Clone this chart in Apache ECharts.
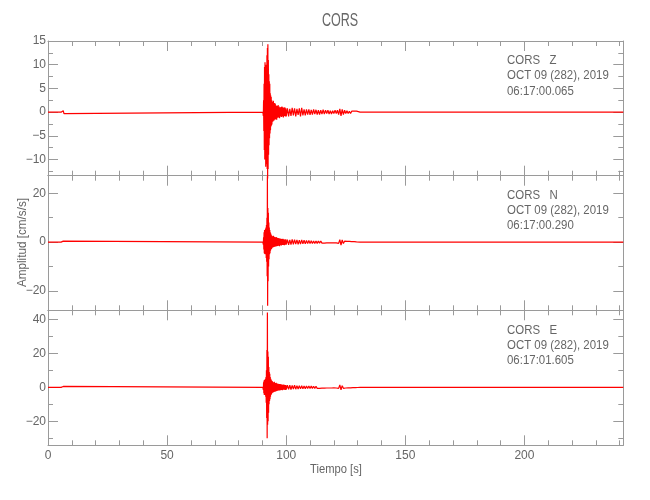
<!DOCTYPE html>
<html><head><meta charset="utf-8">
<script src="https://cdn.jsdelivr.net/npm/echarts@6/dist/echarts.min.js"></script>
<style>html,body{margin:0;padding:0;background:#fff}#c{width:650px;height:500px}</style>
</head><body><div id="c"></div>
<script>
// Sample times (s)
const T = [0, 5.5, 5.8, 6.1, 6.4, 6.7, 7.0, 90.2,
  90.3,90.4,90.5,90.6,90.7,90.8,90.9,91.0,91.1,91.2,91.3,91.4,91.5,91.6,91.7,91.8,91.9,92.0,92.1,92.2,92.3,92.4,92.5,92.6,92.7,92.8,92.9,93.0,93.1,93.2,93.3,93.4,93.5,93.6,93.7,93.8,93.9,94.0,
  94.2,94.4,94.6,94.8,95.0,95.2,95.4,95.6,95.8,96.0,96.2,96.4,96.6,96.8,97.0,97.2,97.4,97.6,97.8,98.0,98.2,98.4,98.6,98.8,99.0,99.2,99.4,99.6,99.8,100.0,
  100.5,101,101.5,102,102.5,103,103.5,104,104.5,105,105.5,106,106.5,107,107.5,108,108.5,109,109.5,110,
  110.5,111,111.5,112,112.5,113,113.5,114,114.5,115,115.5,116,116.5,117,117.5,118,118.5,119,119.5,120,
  120.5,121,121.5,122,122.5,123,123.5,124,124.5,125,125.5,126,126.5,127,127.5,128,128.5,129,129.5,130,
  131, 174.6, 175, 175.3, 175.6, 187.3, 187.6, 187.9, 188.2, 222.8, 223, 223.2, 223.4, 241.5];

// Z component (cm/s/s)
const Z = [0,0,0.3,-0.3,0.3,-0.3,0,0,
  0.2,-0.8,2.5,-4,6,-8,9.5,-10,10.5,-9, 8,-11.5,10,-11,9,-10.5,12,-12,13.5,-14, 14.3,-12,11,-9,8,-7,6.5,-5.5,6,-4.5, 4,-3.8,3.5,-3,3.2,-2.8,2.5,-2.6,
  2.2,-2,2.4,-1.8,1.9,-1.6,1.8,-1.5,1.4,-1.6, 1.3,-1.2,1.5,-1.1,1.2,-1.3,1.0,-0.9,1.1,-1.0, 1.2,-0.9,1.0,-1.1,0.9,-0.8,1.0,-0.9,0.8,-0.9,
  0.8,-0.9,0.7,-0.8,0.9,-0.7,0.8,-0.9,0.7,-0.6, 0.8,-0.9,0.9,-0.7,0.6,-0.7,0.6,-0.5,0.6,-0.6,
  0.5,-0.5,0.6,-0.4,0.5,-0.5,0.4,-0.5,0.4,-0.4, 0.5,-0.4,0.4,-0.3,0.4,-0.4,0.3,-0.4,0.3,-0.3,
  0.4,-0.3,0.4,-0.5,0.7,-0.8,0.6,-0.5,0.4,-0.3, 0.3,-0.3,0.2,-0.3,0.2,-0.2,0.2,-0.2,0.2,-0.1,
  0,0,0.4,-0.4,0,0,0.3,-0.3,0,0,0.2,-0.2,0,0];

// N component
const N = [0,0,0.5,-0.5,0.4,-0.4,0,0,
  0.3,-1,2,-3,4,-4.5,5,-4.8,4.5,-5, 5.5,-5,6,-6.5,7,-8,10,-14,27,-26, 14,-16,12,-10,8,-7,6,-5,5,-4.5, 4,-3.5,3.5,-3,3,-2.8,2.6,-2.5,
  2.4,-2.2,2.6,-2,2.2,-1.9,2.0,-1.8,2.1,-1.7, 1.8,-1.6,1.7,-1.5,1.6,-1.7,1.5,-1.3,1.4,-1.4, 1.3,-1.2,1.4,-1.1,1.2,-1.3,1.1,-1.0,1.2,-1.0,
  1.0,-1.1,0.9,-1.0,1.1,-0.9,1.0,-0.8,0.9,-0.9, 0.8,-0.8,0.9,-0.7,0.8,-0.7,0.7,-0.6,0.7,-0.6,
  0.6,-0.6,0.5,-0.6,0.5,-0.5,0.5,-0.4,0.5,-0.4, 0.4,-0.4,0.4,-0.3,0.4,-0.3,0.3,-0.3,0.3,-0.3,
  0.3,-0.3,0.4,-0.5,1.0,-1.2,0.9,-0.6,0.4,-0.3, 0.3,-0.2,0.3,-0.2,0.2,-0.2,0.2,-0.2,0.1,-0.1,
  0,0,0,0,0,0,0,0,0,0,0,0,0,0];

// E component
const E = [0,0,0.5,-0.5,0.5,-0.4,0,0,
  0.5,-1.5,3,-3.5,4,-4.5,4.5,-4,3.5,-4.5, 5,-5.5,6,-9,10,-18,22,-30,44,-22, 21,-20,18,-15,12,-10,9,-8,8,-7, 6,-5.5,5,-4.5,4.5,-4,3.8,-3.5,
  3.5,-3.2,3.0,-2.8,3.2,-2.6,2.5,-2.4,2.6,-2.2, 2.2,-2.0,2.1,-1.9,2.0,-1.8,1.9,-1.7,1.8,-1.6, 1.6,-1.7,1.5,-1.4,1.6,-1.4,1.3,-1.5,1.4,-1.3,
  1.3,-1.2,1.2,-1.3,1.1,-1.0,1.2,-1.1,1.0,-1.0, 1.0,-0.9,0.9,-0.9,0.8,-0.8,0.8,-0.7,0.8,-0.7,
  0.7,-0.6,0.6,-0.7,0.6,-0.6,0.5,-0.6,0.5,-0.5, 0.5,-0.5,0.4,-0.4,0.5,-0.4,0.4,-0.4,0.4,-0.3,
  0.4,-0.4,0.4,-0.6,1.4,-1.5,1.0,-0.6,0.4,-0.4, 0.3,-0.3,0.3,-0.3,0.3,-0.2,0.2,-0.2,0.2,-0.1,
  0,0,0,0,0,0,0,0,0,0,0,0,0,0];

const X_MAJOR = [0,50,100,150,200];
const X_MINOR = [10,20,30,40,60,70,80,90,110,120,130,140,160,170,180,190,210,220,230,240];
const X_RANGE = [0, 241.5];
const Y_MAJOR = [[-10,-5,0,5,10,15],[-20,0,20],[-20,0,20,40]];
const Y_MINOR = [[-12.5,-7.5,-2.5,2.5,7.5,12.5],[-10,10],[-30,-10,10,30]];
const Y_RANGE = [[-13.4,15],[-27.9,27.2],[-34.1,45.3]];
const STATION = 'CORS';
const COMPONENTS = ['Z','N','E'];
const DATE_LINE = 'OCT 09 (282), 2019';
const START_TIMES = ['06:17:00.065','06:17:00.290','06:17:01.605'];
const TRACES = [Z, N, E];

const FONT = "'Liberation Sans',sans-serif";
const AX = '#9a9a9a';
const TXT = '#666666';
const GRID_TOP = [41, 175.7, 310.3];
const GRID_H = [134.7, 134.6, 135];

const fmt = v => String(v).replace('-', '\u2212');

const grids = [], xAxes = [], yAxes = [], series = [], graphics = [];
for (let g = 0; g < 3; g++) {
  grids.push({left: 48, width: 575.3, top: GRID_TOP[g], height: GRID_H[g]});
  ['bottom','top'].forEach(pos => {
    [true,false].forEach(major => {
      xAxes.push({
        type: 'value', gridIndex: g, position: pos, min: X_RANGE[0], max: X_RANGE[1],
        axisLine: {show: major, onZero: false, lineStyle: {color: AX, width: 1}},
        splitLine: {show: false},
        axisTick: {show: true, inside: true, length: major ? 10 : 5,
          customValues: major ? X_MAJOR : X_MINOR, lineStyle: {color: AX, width: 1}},
        axisLabel: {show: major && pos === 'bottom' && g === 2,
          customValues: major ? X_MAJOR : X_MINOR, margin: 4,
          color: TXT, fontFamily: FONT, fontSize: 12, formatter: fmt}
      });
    });
  });
  ['left','right'].forEach(pos => {
    [true,false].forEach(major => {
      yAxes.push({
        type: 'value', gridIndex: g, position: pos, min: Y_RANGE[g][0], max: Y_RANGE[g][1],
        axisLine: {show: major, onZero: false, lineStyle: {color: AX, width: 1}},
        splitLine: {show: false},
        axisTick: {show: true, inside: true, length: major ? 10 : 5,
          customValues: major ? Y_MAJOR[g] : Y_MINOR[g], lineStyle: {color: AX, width: 1}},
        axisLabel: {show: major && pos === 'left',
          customValues: major ? Y_MAJOR[g] : Y_MINOR[g], margin: 2,
          color: TXT, fontFamily: FONT, fontSize: 12, formatter: fmt}
      });
    });
  });
  series.push({
    type: 'line', xAxisIndex: 4*g, yAxisIndex: 4*g, showSymbol: false, symbol: 'none',
    clip: false, sampling: null, animation: false, z: 5,
    lineStyle: {color: '#ff0000', width: 1.2},
    data: T.map((t, i) => [t, TRACES[g][i]])
  });
  const lines = [STATION + '   ' + COMPONENTS[g], DATE_LINE, START_TIMES[g]];
  lines.forEach((s, k) => {
    graphics.push({type: 'text', x: 507, y: GRID_TOP[g] + 19.7 + k*15.2, scaleX: 0.88,
      style: {text: s, fill: TXT, fontFamily: FONT, fontSize: 13, align: 'left', verticalAlign: 'middle'}});
  });
}
graphics.push({type: 'text', x: 340, y: 21, scaleX: 0.66,
  style: {text: STATION, fill: TXT, fontFamily: FONT, fontSize: 19, align: 'center', verticalAlign: 'middle'}});
graphics.push({type: 'text', x: 336, y: 469, scaleX: 0.86,
  style: {text: 'Tiempo [s]', fill: TXT, fontFamily: FONT, fontSize: 13, align: 'center', verticalAlign: 'middle'}});
graphics.push({type: 'text', x: 22, y: 242.5, rotation: Math.PI/2, scaleX: 0.9,
  style: {text: 'Amplitud [cm/s/s]', fill: TXT, fontFamily: FONT, fontSize: 13, align: 'center', verticalAlign: 'middle'}});

const chart = echarts.init(document.getElementById('c'), null, {renderer: 'canvas'});
chart.setOption({
  animation: false,
  backgroundColor: '#fff',
  grid: grids, xAxis: xAxes, yAxis: yAxes, series: series, graphic: graphics
});
</script></body></html>
